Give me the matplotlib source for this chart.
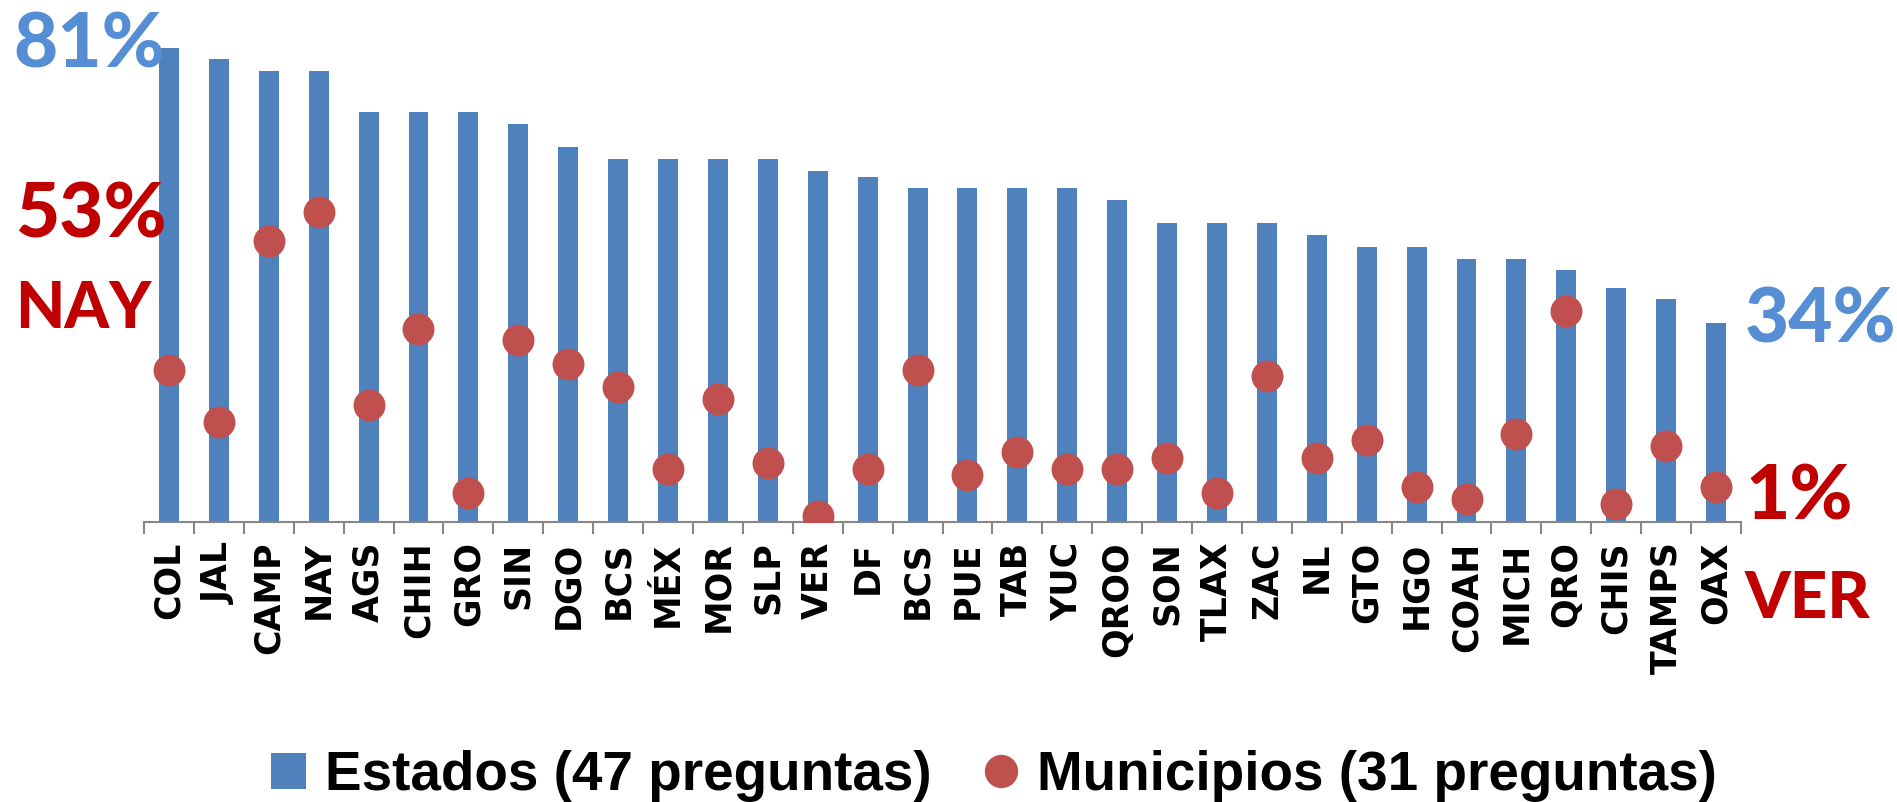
import matplotlib.pyplot as plt
from matplotlib.lines import Line2D
from matplotlib.patches import Patch
import numpy as np

estados = ['COL', 'JAL', 'CAMP', 'NAY', 'AGS', 'CHIH', 'GRO', 'SIN', 'DGO', 'BCS', 'MÉX',
           'MOR', 'SLP', 'VER', 'DF', 'BCS', 'PUE', 'TAB', 'YUC', 'QROO', 'SON', 'TLAX',
           'ZAC', 'NL', 'GTO', 'HGO', 'COAH', 'MICH', 'QRO', 'CHIS', 'TAMPS', 'OAX']

# Estados (47 preguntas) %
estados_pct = [81, 79, 77, 77, 70, 70, 70, 68, 64, 62, 62,
               62, 62, 60, 59, 57, 57, 57, 57, 55, 51, 51,
               51, 49, 47, 47, 45, 45, 43, 40, 38, 34]

# Municipios (31 preguntas) %
municipios_pct = [26, 17, 48, 53, 20, 33, 5, 31, 27, 23, 9,
                  21, 10, 1, 9, 26, 8, 12, 9, 9, 11, 5,
                  25, 11, 14, 6, 4, 15, 36, 3, 13, 6]

azul = '#4F81BD'
rojo = '#C0504D'
azul_txt = '#558ED5'
rojo_txt = '#C00000'

W, H = 1897, 802
fig = plt.figure(figsize=(W / 100, H / 100), dpi=100)
ax = fig.add_axes([144 / W, 1 - 522 / H, 1597 / W, (522 - 24.3) / H])

x = np.arange(len(estados))
ax.bar(x, estados_pct, width=0.4, color=azul, zorder=2)
ax.plot(x, municipios_pct, 'o', color=rojo, markersize=23, markeredgewidth=0, zorder=3)

ax.set_xlim(-0.5, len(estados) - 0.5)
ax.set_ylim(0, 85)

for s in ['top', 'right', 'left']:
    ax.spines[s].set_visible(False)
ax.spines['bottom'].set_color('#868686')
ax.spines['bottom'].set_linewidth(1.5)
ax.set_yticks([])

ax.set_xticks(x)
ax.set_xticklabels(estados, rotation=90, fontsize=25, fontweight='bold',
                   family='DejaVu Sans')
ax.tick_params(axis='x', which='major', length=0, pad=14)
ax.set_xticks(np.arange(-0.5, len(estados)), minor=True)
ax.tick_params(axis='x', which='minor', length=8.6, width=1.5, color='#868686',
               direction='out')

# anotaciones grandes
big = dict(family='Lato', fontweight='black', fontsize=55)
fig.text(13 / W, 1 - 68 / H, '81%', color=azul_txt, ha='left', va='baseline', **big)
fig.text(15 / W, 1 - 237 / H, '53%', color=rojo_txt, ha='left', va='baseline', **big)
fig.text(15 / W, 1 - 328 / H, 'NAY', color=rojo_txt, ha='left', va='baseline',
         family='Lato', fontweight='black', fontsize=46)
fig.text(1745 / W, 1 - 343 / H, '34%', color=azul_txt, ha='left', va='baseline', **big)
fig.text(1745 / W, 1 - 520 / H, '1%', color=rojo_txt, ha='left', va='baseline', **big)
fig.text(1745 / W, 1 - 618 / H, 'VER', color=rojo_txt, ha='left', va='baseline',
         family='Lato', fontweight='black', fontsize=47)

handles = [Patch(facecolor=azul, edgecolor='none'),
           Line2D([], [], marker='o', linestyle='none', color=rojo, markersize=24,
                  markeredgewidth=0)]
fig.legend(handles, ['Estados (47 preguntas)', 'Municipios (31 preguntas)'],
           loc='center', bbox_to_anchor=(0.524, 1 - 776 / H), ncol=2, frameon=False,
           prop={'family': 'Liberation Sans', 'weight': 'bold', 'size': 39.5},
           handlelength=0.64, handleheight=0.64, handletextpad=0.34, columnspacing=0.95)

fig.savefig('out.png', dpi=100)
